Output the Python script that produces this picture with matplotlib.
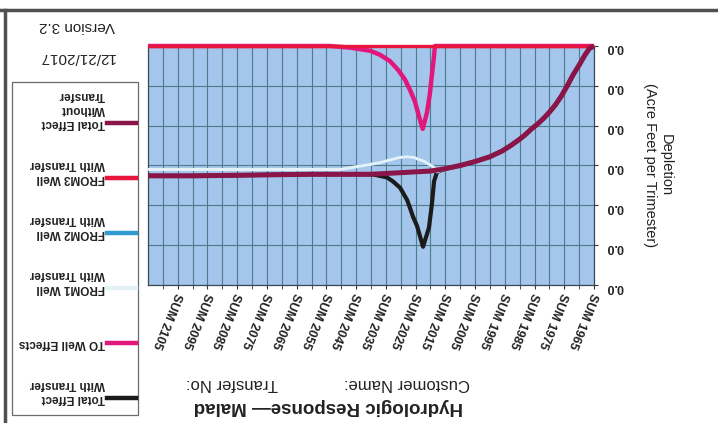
import numpy as np
import matplotlib.pyplot as plt
from matplotlib.lines import Line2D
from matplotlib.patches import Rectangle
from matplotlib.ticker import FormatStrFormatter

plt.rcParams['font.family'] = ['Liberation Sans', 'DejaVu Sans']

# The scanned sheet is upside down, so everything is drawn turned by 180 degrees.
# Years (summer trimester) and depletion values.

years_base = [1965, 1966.5, 1968, 1970, 1972, 1974, 1976, 1978, 1980, 1982, 1984, 1986, 1988,
              1990, 1993, 1996, 2000, 2005, 2010, 2015, 2020, 2030, 2040, 2060, 2080, 2100, 2115]
total_without = [0.0, 0.0003, 0.0011, 0.0024, 0.0036, 0.0050, 0.0063, 0.0074, 0.0083, 0.0091,
                 0.0098, 0.0104, 0.0111, 0.0117, 0.0125, 0.0132, 0.0139, 0.0145, 0.0150, 0.0154,
                 0.0157, 0.0159, 0.0161, 0.0161, 0.0162, 0.0163, 0.0163]

years_total_with = [1965, 1966.5, 1968, 1970, 1972, 1974, 1976, 1978, 1980, 1982, 1984, 1986,
                    1988, 1990, 1993, 1996, 2000, 2005, 2010, 2015, 2017.8, 2018.8, 2019.5,
                    2020.5, 2022.5, 2023.5, 2024.5, 2025.9, 2026.9, 2027.9, 2030.2,
                    2032.6, 2034.6, 2037.0, 2039.7, 2045, 2060, 2080, 2100, 2115]
total_with = [0.0, 0.0003, 0.0011, 0.0024, 0.0036, 0.0050, 0.0063, 0.0074, 0.0083, 0.0091,
              0.0098, 0.0104, 0.0111, 0.0117, 0.0125, 0.0132, 0.0139, 0.0145, 0.0150, 0.0154,
              0.0158, 0.0170, 0.0198, 0.0228, 0.0252, 0.0239, 0.0226, 0.0214, 0.0203,
              0.0193, 0.0178, 0.0170, 0.0165, 0.0163, 0.0161, 0.0161, 0.0161, 0.0162, 0.0163,
              0.0163]

years_to = [1965, 2018.5, 2018.8, 2019.5, 2020.2, 2021.2, 2022.6, 2023.9, 2025.2,
            2026.9, 2028.6, 2030.9, 2033.6, 2037.0, 2040.3, 2043.7, 2047.1, 2050.4, 2053.8, 2115]
to_well = [0.0, 0.0, 0.0012, 0.0036, 0.0060, 0.0084, 0.0104, 0.0088, 0.0070, 0.0055,
           0.0042, 0.0030, 0.0019, 0.0011, 0.0006, 0.0004, 0.0002, 0.0001, 0.0, 0.0]

years_from = [1965, 1966.5, 1968, 1970, 1972, 1974, 1976, 1978, 1980, 1982, 1984, 1986, 1988,
              1990, 1993, 1996, 2000, 2005, 2010, 2015, 2017.8, 2019, 2020.2, 2022, 2023.5,
              2025.5, 2027.9, 2030.5, 2033.6, 2036.5, 2039.3, 2044, 2050.4, 2060, 2080, 2100, 2115]
from1_well = [0.0, 0.0003, 0.0011, 0.0024, 0.0036, 0.0050, 0.0063, 0.0074, 0.0083, 0.0091,
              0.0098, 0.0104, 0.0111, 0.0117, 0.0125, 0.0132, 0.0139, 0.0145, 0.0150, 0.0154,
              0.0158, 0.0152, 0.0149, 0.0145, 0.0143, 0.0140, 0.0139, 0.0140, 0.0143, 0.0146,
              0.0148, 0.0151, 0.0155, 0.0155, 0.0155, 0.0155, 0.0155]
from2_well = [0.0, 0.0003, 0.0011, 0.0024, 0.0036, 0.0050, 0.0063, 0.0074, 0.0083, 0.0091,
              0.0098, 0.0104, 0.0111, 0.0117, 0.0125, 0.0132, 0.0139, 0.0145, 0.0150, 0.0154,
              0.0158, 0.0152, 0.0149, 0.0145, 0.0143, 0.0140, 0.0139, 0.0140, 0.0143, 0.0146,
              0.0148, 0.0151, 0.0155, 0.0155, 0.0155, 0.0155, 0.0155]
years_from3 = [1965, 2115]
from3_well = [0.0, 0.0]

label_years = list(range(1965, 2106, 10))
depletion_ticks = [0.0, 0.005, 0.010, 0.015, 0.020, 0.025, 0.030]

# series in the original legend order
series = [
    (years_total_with, total_with, 'Total Effect\nWith Transfer', '#1b1b1b', 3.0, 2),
    (years_to, to_well, 'TO Well Effects', '#e2177c', 3.2, 3),
    (years_from, from1_well, 'FROM1 Well\nWith Transfer', '#e4f2f8', 2.2, 5),
    (years_from, from2_well, 'FROM2 Well\nWith Transfer', '#2f9bd0', 1.8, 4),
    (years_from3, from3_well, 'FROM3 Well\nWith Transfer', '#e8163c', 2.4, 6),
    (years_base, total_without, 'Total Effect\nWithout\nTransfer', '#8a1548', 3.6, 7),
]

W, H = 718, 423


def fx(px):
    return px / W


def fy(py):
    return 1 - py / H


fig = plt.figure(figsize=(W / 100, H / 100), dpi=100)
ax = fig.add_axes([fx(148), fy(285), (594 - 148) / W, (285 - 46) / H])
ax.set_facecolor('#a4c5ec')

for xs, ys, label, color, lw, z in series:
    ax.plot(xs, ys, color=color, lw=lw, zorder=z, clip_on=False,
            solid_capstyle='butt', solid_joinstyle='round')

# turned chart: time runs right to left, depletion grows downward
ax.set_xlim(2115, 1965)
ax.set_ylim(0.030, 0.0)

ax.set_xticks(label_years)
ax.set_xticklabels([f'SUM {y}' for y in label_years])
ax.set_xticks([y + 5 for y in label_years], minor=True)
ax.tick_params(axis='x', which='both', direction='out', length=3, pad=3, color='#333333')
for lab in ax.get_xticklabels():
    lab.set_rotation(-112)
    lab.set_rotation_mode('anchor')
    lab.set_ha('left')
    lab.set_va('center')
    lab.set_fontsize(9)
    lab.set_fontweight('bold')
    lab.set_color('#222222')

ax.yaxis.tick_right()
ax.set_yticks(depletion_ticks)
ax.yaxis.set_major_formatter(FormatStrFormatter('%.1f'))
ax.tick_params(axis='y', direction='out', length=3, pad=6, color='#333333')
for lab in ax.get_yticklabels():
    lab.set_rotation(180)
    lab.set_fontsize(9)
    lab.set_fontweight('bold')
    lab.set_color('#222222')

ax.grid(which='both', color='#4d7c8a', lw=0.8)
ax.set_axisbelow(True)
for sp in ax.spines.values():
    sp.set_color('#3a4a55')
    sp.set_linewidth(0.9)

fig.text(fx(658), fy(165), 'Depletion\n(Acre Feet per Trimester)', rotation=270,
         ha='center', va='center', multialignment='center', fontsize=10.5, color='#222222')

# titles (upside down at the bottom)
fig.text(fx(328), fy(406), 'Hydrologic Response\u2014 Malad', rotation=180,
         ha='center', va='center', fontsize=13.5, fontweight='bold', color='#222222')
fig.text(fx(470), fy(383), 'Customer Name:', rotation=180, ha='right', va='center',
         fontsize=12, color='#222222')
fig.text(fx(186), fy(383), 'Transfer No:', rotation=180, ha='left', va='center',
         fontsize=12, color='#222222')

fig.text(fx(77), fy(26), 'Version 3.2', rotation=180, ha='center', va='center',
         fontsize=11, color='#222222')
fig.text(fx(77), fy(57), '12/21/2017', rotation=180, ha='center', va='center',
         fontsize=11, color='#222222')

# legend, drawn by hand so the text can be turned too
fig.add_artist(Rectangle((fx(12), fy(415)), fx(138) - fx(12), fy(82) - fy(415),
                         transform=fig.transFigure, fill=False, edgecolor='#6a6a6a', lw=0.9))
y0 = 398
for xs, ys, label, color, lw, z in series:
    fig.add_artist(Line2D([fx(107), fx(136)], [fy(y0), fy(y0)], color=color, lw=3.2,
                          transform=fig.transFigure))
    for i, line in enumerate(label.split('\n')):
        fig.text(fx(105), fy(y0 - 14 * i), line, rotation=180, ha='right', va='center',
                 fontsize=8.5, fontweight='bold', color='#222222')
    y0 -= 55

# frame of the scanned sheet
fig.add_artist(Line2D([0, 1], [fy(10), fy(10)], color='#505050', lw=2.5, transform=fig.transFigure))
fig.add_artist(Line2D([fx(4.5), fx(4.5)], [0, fy(10)], color='#505050', lw=2.5,
                      transform=fig.transFigure))

fig.savefig('out.png', dpi=100)
